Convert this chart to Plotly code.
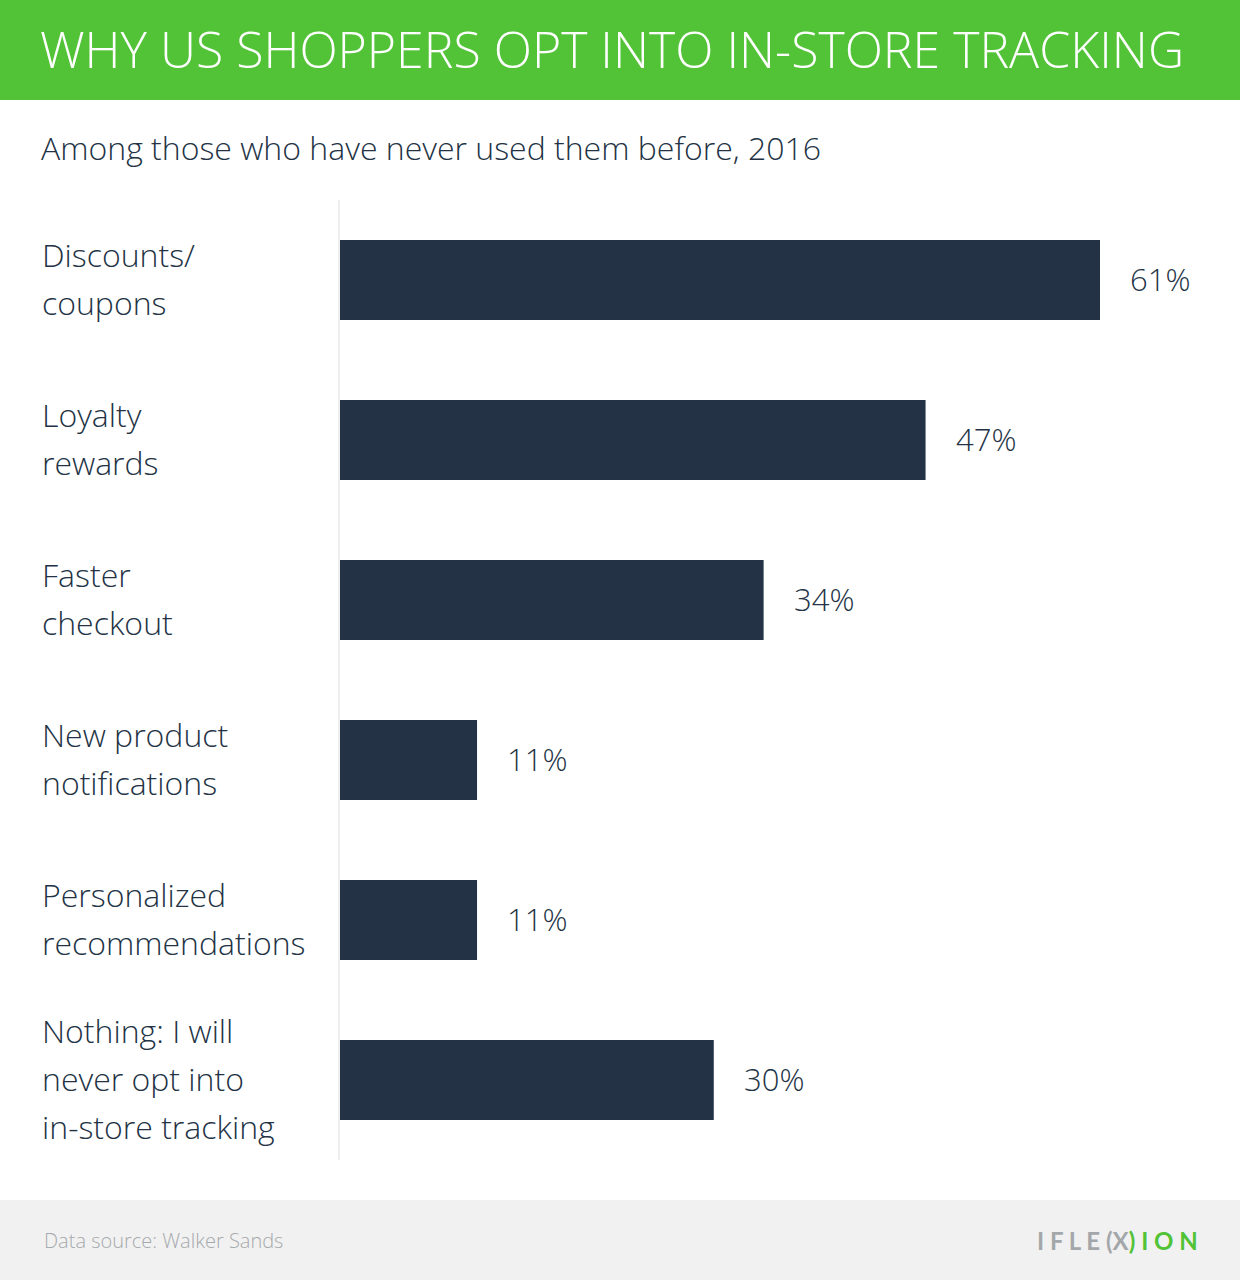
import plotly.graph_objects as go

categories = [
    "Discounts/<br>coupons",
    "Loyalty<br>rewards",
    "Faster<br>checkout",
    "New product<br>notifications",
    "Personalized<br>recommendations",
    "Nothing: I will<br>never opt into<br>in-store tracking",
]
values = [61, 47, 34, 11, 11, 30]
value_labels = ["61%", "47%", "34%", "11%", "11%", "30%"]

title = "WHY US SHOPPERS OPT INTO IN-STORE TRACKING"
subtitle = "Among those who have never used them before, 2016"
source = "Data source: Walker Sands"

W, H = 1240, 1280
L, R, T, B = 340, 0, 200, 120
PW, PH = W - L - R, H - T - B

GREEN = "#52c237"
NAVY = "#233345"
FONT = "'Open Sans', Lato, sans-serif"
WT = 300


def px(x):
    return (x - L) / PW


def py(y):
    return (H - B - y) / PH


ids = list(range(len(categories)))

fig = go.Figure(
    go.Bar(
        x=values,
        y=ids,
        orientation="h",
        marker=dict(color=NAVY, line=dict(width=0)),
        width=0.5,
        hoverinfo="skip",
    )
)

annotations = []
for i, (cat, v, lab) in enumerate(zip(categories, values, value_labels)):
    lines = cat.split("<br>")
    n = len(lines)
    for j, line in enumerate(lines):
        annotations.append(dict(
            x=px(40), xref="paper", y=i, yref="y",
            text=line, showarrow=False, xanchor="left", yanchor="middle",
            yshift=-(j - (n - 1) / 2) * 48 + 2,
            font=dict(family=FONT, size=32, color=NAVY, weight=WT),
        ))
    annotations.append(dict(
        x=v, xref="x", y=i, yref="y", text=lab, showarrow=False,
        xanchor="left", yanchor="middle", xshift=28, yshift=1,
        font=dict(family=FONT, size=31, color=NAVY, weight=WT),
    ))

annotations += [
    dict(x=px(38), y=py(49), xref="paper", yref="paper", text=title,
         showarrow=False, xanchor="left", yanchor="middle",
         font=dict(family=FONT, size=50, color="white", weight=WT)),
    dict(x=px(39), y=py(148), xref="paper", yref="paper", text=subtitle,
         showarrow=False, xanchor="left", yanchor="middle",
         font=dict(family=FONT, size=32, color=NAVY, weight=WT)),
    dict(x=px(42), y=py(1240), xref="paper", yref="paper", text=source,
         showarrow=False, xanchor="left", yanchor="middle",
         font=dict(family=FONT, size=20, color="#a6a9ad", weight=WT)),
    dict(x=px(1200), y=py(1240), xref="paper", yref="paper",
         text="<span style='color:#a4a7aa'>I F L E </span>"
              "<span style='color:#a4a7aa'>(</span><span style='color:#a4a7aa'>X</span><span style='color:" + GREEN + "'>)</span>"
              "<span style='color:" + GREEN + "'> I O N</span>",
         showarrow=False, xanchor="right", yanchor="middle",
         font=dict(family="Lato, sans-serif", size=24, color="#a4a7aa", weight="bold")),
]

shapes = [
    dict(type="rect", xref="paper", yref="paper", x0=px(0), x1=px(W),
         y0=py(0), y1=py(100), fillcolor=GREEN, line=dict(width=0), layer="below"),
    dict(type="rect", xref="paper", yref="paper", x0=px(0), x1=px(W),
         y0=py(1200), y1=py(H), fillcolor="#f1f1f1", line=dict(width=0), layer="below"),
]

fig.update_layout(
    width=W, height=H,
    margin=dict(l=L, r=R, t=T, b=B, pad=0),
    paper_bgcolor="white", plot_bgcolor="white",
    showlegend=False,
    xaxis=dict(range=[0, 61 * PW / 760], visible=False, fixedrange=True),
    yaxis=dict(range=[len(categories) - 0.5, -0.5], showticklabels=False,
               showgrid=False, zeroline=False, showline=True,
               linecolor="#eeeeee", linewidth=2, ticks="", fixedrange=True),
    annotations=annotations,
    shapes=shapes,
    bargap=0.5,
)

fig.write_html("out.html", config={"displayModeBar": False},
               post_script="document.body.style.margin='0';document.body.style.padding='0';")
